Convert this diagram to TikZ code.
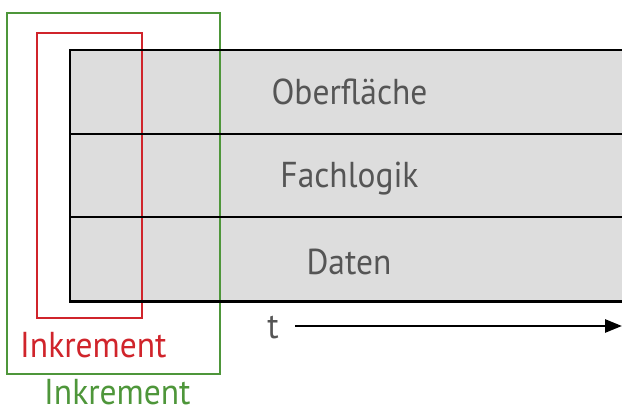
\documentclass[tikz,border=0pt]{standalone}
\usepackage{fontspec}
\setmainfont[FakeStretch=0.93]{PT Sans}
\usetikzlibrary{arrows.meta}
\definecolor{layergray}{HTML}{DDDDDD}
\definecolor{labelgray}{HTML}{555555}
\definecolor{incred}{HTML}{D0242B}
\definecolor{incgreen}{HTML}{4E963A}
\tikzset{
  layer/.style={draw=none, fill=layergray, minimum width=559pt, inner sep=0pt, anchor=north west},
  layertext/.style={text=labelgray, font=\fontsize{36}{36}\selectfont, anchor=base, inner sep=0pt},
  inctext/.style={font=\fontsize{36}{36}\selectfont, anchor=base west, inner sep=0pt},
  sep/.style={line width=2.7pt, black},
  incbox/.style={line width=2.2pt},
}
\begin{document}
\begin{tikzpicture}[x=1pt, y=-1pt]
  \useasboundingbox (0,0) rectangle (622,409);
  % three stacked layers
  \node[layer, minimum height=84pt] (ui) at (70,50) {};
  \node[layer, minimum height=83pt] (logic) at (70,134) {};
  \node[layer, minimum height=84pt] (data) at (70,217) {};
  % increment frames
  \draw[incbox, incred] (37,33) rectangle (142,318);
  \draw[incbox, incgreen] (7,13) rectangle (220,374);
  % outline and separators
  \draw[sep] (ui.north east) -- (ui.north west) -- (data.south west) -- (data.south east);
  \draw[sep] (logic.north west) -- (logic.north east);
  \draw[sep] (data.north west) -- (data.north east);
  % layer labels
  \node[layertext] (uitext) at (349.5,105) {Oberfläche};
  \node[layertext] (logictext) at (349.5,188) {Fachlogik};
  \node[layertext] (datatext) at (349,275) {Daten};
  % time axis
  \node[layertext] (t) at (273,338) {t};
  \coordinate (tend) at (622,326);
  \draw[line width=2.7pt, -{Triangle[length=17pt,width=13pt]}] (295,326) -- (tend);
  % increment labels
  \node[inctext, text=incred] (redlabel) at (20,357) {Inkrement};
  \node[inctext, text=incgreen] (greenlabel) at (44,404) {Inkrement};
\end{tikzpicture}
\end{document}
